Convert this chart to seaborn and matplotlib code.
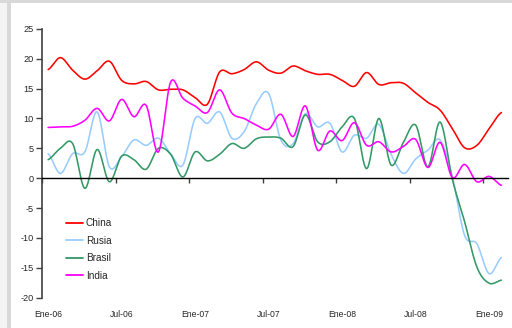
import numpy as np
import pandas as pd
import matplotlib
matplotlib.use("Agg")
import matplotlib.pyplot as plt
from matplotlib.patches import Rectangle
import seaborn as sns

# ---- data (monthly, Ene-06 .. Feb-09) ----
months = pd.date_range("2006-01-01", "2009-02-01", freq="MS")
tick_labels = ["Ene-06", "Jul-06", "Ene-07", "Jul-07", "Ene-08", "Jul-08", "Ene-09"]
series_names = ["China", "Rusia", "Brasil", "India"]

china = [18.2, 20.2, 18.1, 16.6, 18.0, 19.6, 16.4, 15.8, 16.2, 14.8, 14.9, 14.8, 13.5, 12.4,
         17.8, 17.5, 18.2, 19.5, 18.1, 17.6, 18.8, 18.0, 17.4, 17.4, 16.4, 15.4, 17.7, 15.7,
         16.0, 15.9, 14.3, 12.7, 11.4, 8.3, 5.1, 5.5, 8.3, 11.0]
rusia = [4.1, 0.8, 4.1, 4.4, 11.1, 1.9, 3.6, 6.4, 5.5, 6.7, 4.1, 2.2, 10.0, 9.2, 11.1, 6.7,
         7.8, 12.5, 14.2, 6.4, 5.8, 10.8, 8.6, 9.2, 4.4, 7.2, 6.7, 9.0, 4.0, 0.8, 3.2, 4.7,
         6.4, 0.2, -9.6, -11.0, -16.0, -13.3]
brasil = [3.1, 5.0, 5.8, -1.7, 4.8, -0.6, 3.7, 3.1, 1.5, 5.0, 4.0, 0.2, 4.4, 2.9, 4.0, 5.8,
          5.0, 6.6, 6.9, 6.7, 5.3, 10.6, 6.1, 6.1, 8.6, 10.0, 1.6, 10.0, 2.2, 6.0, 8.9, 1.9,
          9.4, -0.2, -7.3, -14.9, -17.6, -17.1]
india = [8.5, 8.6, 8.7, 9.7, 11.7, 9.6, 13.2, 10.3, 12.2, 4.4, 16.1, 13.4, 12.1, 11.0, 14.8,
         10.9, 10.0, 8.9, 8.2, 10.7, 7.0, 12.1, 4.7, 7.9, 6.3, 9.3, 5.5, 6.1, 4.4, 5.3, 6.5,
         1.8, 6.0, 0.1, 2.3, -0.6, 0.3, -1.2]

colors = {"China": "#ff0000", "Rusia": "#99ccff", "Brasil": "#339966", "India": "#ff00ff"}
values = {"China": china, "Rusia": rusia, "Brasil": brasil, "India": india}


def smooth(y, steps=24):
    """Catmull-Rom curve through the points (Excel-style smoothed line)."""
    y = np.asarray(y, float)
    n = len(y)
    p = np.concatenate([[y[0]], y, [y[-1]]])
    xs, ys = [], []
    for i in range(n - 1):
        p0, p1, p2, p3 = p[i], p[i + 1], p[i + 2], p[i + 3]
        t = np.linspace(0, 1, steps, endpoint=False)
        yy = 0.5 * ((2 * p1) + (-p0 + p2) * t + (2 * p0 - 5 * p1 + 4 * p2 - p3) * t ** 2
                    + (-p0 + 3 * p1 - 3 * p2 + p3) * t ** 3)
        xs.append(i + t)
        ys.append(yy)
    xs.append([n - 1])
    ys.append([y[-1]])
    return np.concatenate(xs), np.concatenate(ys)


frames = []
for name in series_names:
    sx, sy = smooth(values[name])
    frames.append(pd.DataFrame({"x": sx, "y": sy, "Serie": name}))
df = pd.concat(frames, ignore_index=True)

sns.set_style("white")
plt.rcParams["font.family"] = ["Liberation Sans", "DejaVu Sans"]
plt.rcParams["axes.unicode_minus"] = False

fig = plt.figure(figsize=(5.12, 3.28), dpi=100)
fig.patch.set_facecolor("white")
# outer frame decoration
fig.patches.append(Rectangle((0, 1 - 3 / 328), 1, 3 / 328, transform=fig.transFigure,
                             facecolor="#d9d9d9", edgecolor="none", zorder=0))
fig.patches.append(Rectangle((0, 0), 7 / 512, 1 - 3 / 328, transform=fig.transFigure,
                             facecolor="#f4f4f4", edgecolor="none", zorder=0))
fig.patches.append(Rectangle((7 / 512, 0), 4 / 512, 1 - 3 / 328, transform=fig.transFigure,
                             facecolor="#d9d9d9", edgecolor="none", zorder=0))

ax = fig.add_axes([42 / 512, 30.5 / 328, 465.5 / 512, 268.5 / 328])
ax.set_facecolor("none")

sns.lineplot(data=df, x="x", y="y", hue="Serie", hue_order=series_names,
             palette=colors, estimator=None, sort=False, linewidth=1.15, legend=False, ax=ax)

n = len(months)
ax.set_xlim(-0.5, n - 0.5)
ax.set_ylim(-20, 25)
ax.set_yticks(np.arange(-20, 26, 5))
ax.tick_params(axis="y", direction="out", length=4, width=1, color="#404040",
               labelsize=6.6, pad=2, left=True)

for s in ["top", "right"]:
    ax.spines[s].set_visible(False)
ax.spines["left"].set_color("#404040")
ax.spines["left"].set_linewidth(1.2)
ax.spines["bottom"].set_position(("data", 0))
ax.spines["bottom"].set_color("black")
ax.spines["bottom"].set_linewidth(1.0)

# tick marks on the zero line (category boundaries every 6 months)
ax.set_xticks(np.arange(-0.5, n, 6))
ax.tick_params(axis="x", direction="out", length=3.5, width=1, color="#404040",
               labelbottom=False, bottom=True)

# month labels at the bottom of the plot
sec = ax.secondary_xaxis("bottom")
label_pos = np.arange(0, n, 6)
sec.set_xticks(label_pos)
sec.set_xticklabels(tick_labels[:len(label_pos)])
sec.tick_params(axis="x", length=0, labelsize=6.2, pad=9)
sec.spines["bottom"].set_visible(False)
ax.set_xlabel("")
ax.set_ylabel("")
sec.set_xlabel("")

handles = [plt.Line2D([], [], color=colors[s], lw=1.3) for s in series_names]
ax.legend(handles, series_names, loc="upper left", bbox_to_anchor=(0.052, 0.296),
          frameon=False, fontsize=7.2, handlelength=1.65, handletextpad=0.3,
          labelspacing=0.75, borderpad=0, borderaxespad=0)

fig.savefig("out.png", dpi=100)
